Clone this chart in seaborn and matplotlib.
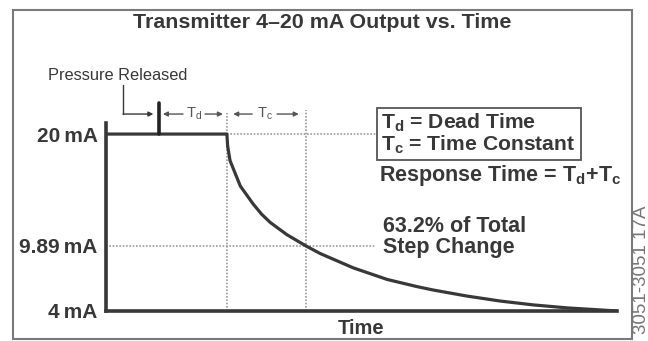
import matplotlib
matplotlib.use("Agg")
import matplotlib.pyplot as plt
from matplotlib.patches import Rectangle
import seaborn as sns
import pandas as pd

# Transmitter output after the pressure is released (time in units of T_c)
time_tc = [0.0, 1.53, 1.54, 1.57, 1.70, 1.86, 1.97, 2.08, 2.29, 2.53, 2.71,
           3.13, 3.56, 3.94, 4.14, 4.57, 4.99, 5.41, 5.84, 6.25, 6.47]
output_ma = [20.0, 20.0, 18.9, 17.6, 15.3, 13.7, 12.75, 12.0, 10.9, 9.89,
             9.2, 7.9, 6.85, 6.2, 5.9, 5.35, 4.9, 4.55, 4.28, 4.1, 4.0]

# Current levels and their labels
levels_ma = [4.0, 9.89, 20.0]
level_labels = ["4\u2009mA", "9.89\u2009mA", "20\u2009mA"]

# Event times (units of T_c)
t_release = 0.67
dead_time = 0.86
time_constant = 1.0

sns.set_theme(style="white")
plt.rcParams["font.family"] = ["Liberation Sans", "DejaVu Sans"]
plt.rcParams["mathtext.fontset"] = "custom"
plt.rcParams["mathtext.rm"] = "Liberation Sans"
plt.rcParams["mathtext.bf"] = "Liberation Sans:bold"
plt.rcParams["mathtext.it"] = "Liberation Sans"

INK = "#383838"
GRID = "#9a9a9a"
W, H = 648, 341

fig = plt.figure(figsize=(W / 100, H / 100), dpi=100)
ax = fig.add_axes([106 / W, (H - 311) / H, 511 / W, 188 / H])


def fx(px):
    return px / W


def fy(py):
    return 1 - py / H


df = pd.DataFrame({"t": time_tc, "mA": output_ma})
sns.lineplot(data=df, x="t", y="mA", ax=ax, color=INK, lw=2.3,
             sort=False, estimator=None, zorder=5)

t_dead_end = t_release + dead_time
t_tc_end = t_dead_end + time_constant

ax.set_xlim(0, 6.468)
ax.set_ylim(4, 21.0)
ax.set_xticks([])
ax.set_yticks(levels_ma)
ax.set_yticklabels(level_labels, fontsize=15, fontweight="bold", color=INK)
ax.tick_params(axis="y", length=0, pad=6)
ax.set_xlabel("Time", fontsize=14.5, fontweight="bold", color=INK, labelpad=6)
ax.set_ylabel("")
for side in ("top", "right"):
    ax.spines[side].set_visible(False)
for side in ("left", "bottom"):
    ax.spines[side].set_color(INK)
    ax.spines[side].set_linewidth(2.6)
ax.patch.set_alpha(0)

# Dotted guide lines
ax.plot([t_dead_end, t_dead_end], [4, 21.9], ls=(0, (1, 1)), color=GRID,
        lw=1.2, clip_on=False)
ax.plot([t_tc_end, t_tc_end], [4, 22.15], ls=(0, (1, 1)), color=GRID,
        lw=1.2, clip_on=False)
ax.plot([t_dead_end, 3.43], [20, 20], ls=(0, (1, 1)), color=GRID, lw=1.2)
ax.plot([0, 3.40], [levels_ma[1], levels_ma[1]], ls=(0, (1, 1)), color=GRID,
        lw=1.2)

# Pressure release marker and callout
ax.plot([t_release, t_release], [20, 22.8], color="#222222", lw=2.6,
        clip_on=False, zorder=6)
ax.plot([0.215, 0.215], [21.81, 24.4], color=INK, lw=1.0, clip_on=False)
ax.annotate("", xy=(t_release - 0.07, 21.81), xytext=(0.215, 21.81),
            arrowprops=dict(arrowstyle="-|>", color=INK, lw=1.0,
                            mutation_scale=7, shrinkA=0, shrinkB=0),
            annotation_clip=False)
fig.text(fx(48), fy(75), "Pressure Released", fontsize=11.8, color=INK,
         ha="left", va="center")

# Dead-time and time-constant spans
y_span = 21.81
span_arrows = [(0.975, 0.72), (1.253, 1.48), (1.85, 1.61), (2.165, 2.44)]
for tail, head in span_arrows:
    ax.annotate("", xy=(head, y_span), xytext=(tail, y_span),
                arrowprops=dict(arrowstyle="-|>", color="#555555", lw=1.0,
                                mutation_scale=7, shrinkA=0, shrinkB=0),
                annotation_clip=False)
ax.text(1.11, y_span, r"T$_\mathrm{d}$", fontsize=10.5, color="#555555",
        ha="center", va="center", clip_on=False)
ax.text(2.01, y_span, r"T$_\mathrm{c}$", fontsize=10.5, color="#555555",
        ha="center", va="center", clip_on=False)

# Legend box for the symbols
fig.add_artist(Rectangle((fx(377), fy(160)), fx(581) - fx(377),
                         fy(108) - fy(160), transform=fig.transFigure,
                         fill=False, edgecolor="#555555", lw=1.3))
fig.text(fx(381), fy(134),
         "T$_\\mathbf{d}$ = Dead Time\nT$_\\mathbf{c}$ = Time Constant",
         fontsize=15.2, fontweight="bold", color=INK, ha="left",
         va="center", linespacing=0.98)
fig.text(fx(379), fy(175),
         r"Response Time = T$_\mathbf{d}$+T$_\mathbf{c}$", fontsize=15.5,
         fontweight="bold", color=INK, ha="left", va="center")
fig.text(fx(383), fy(237), "63.2% of Total\nStep Change", fontsize=15.5,
         fontweight="bold", color=INK, ha="left", va="center",
         linespacing=1.05)

# Title and frame
fig.text(fx(322), fy(23), "Transmitter 4\u201320 mA Output vs. Time",
         fontsize=15.4, fontweight="bold", color=INK, ha="center",
         va="center")
fig.add_artist(Rectangle((fx(13), fy(339)), fx(632) - fx(13),
                         fy(10) - fy(339), transform=fig.transFigure,
                         fill=False, edgecolor="#7a7a7a", lw=1.5))
fig.text(fx(641), fy(205), "3051-3051 17A", fontsize=13.5, color="#777777",
         rotation=90, ha="center", va="top")

fig.savefig("out.png", dpi=100, facecolor="white")
